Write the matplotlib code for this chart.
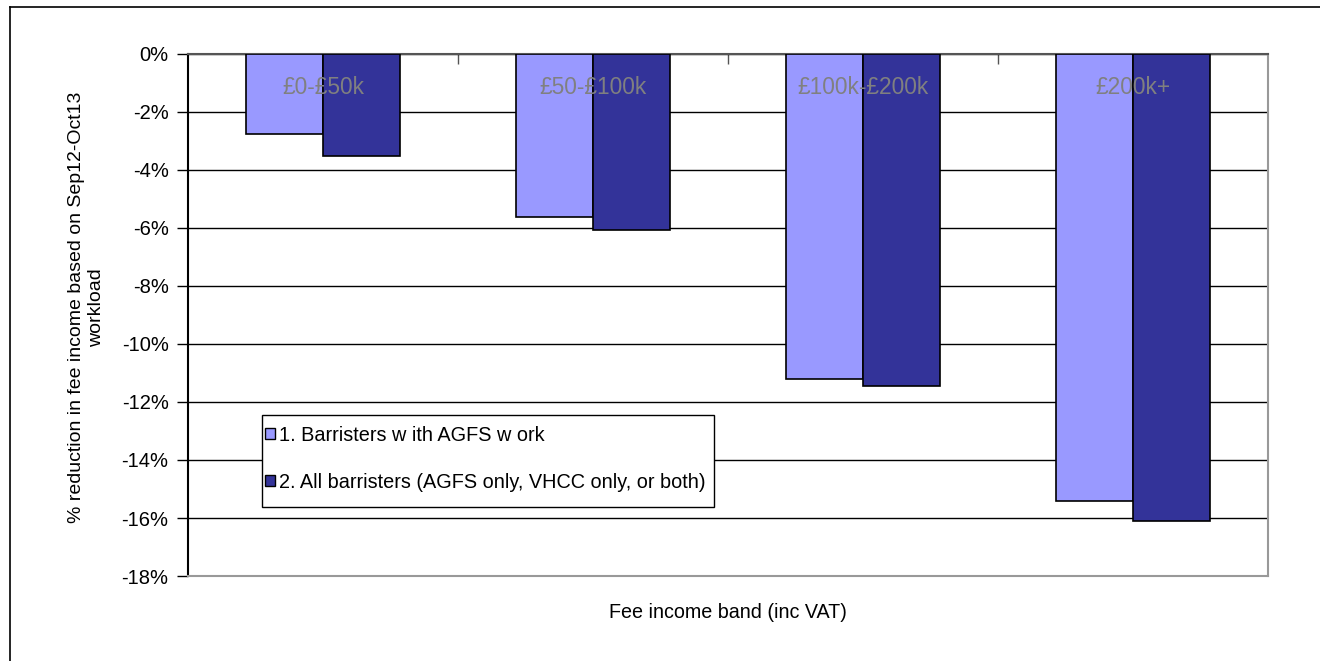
import matplotlib.pyplot as plt
import numpy as np
from matplotlib.lines import Line2D
from matplotlib.patches import Rectangle

plt.rcParams['font.family'] = ['Liberation Sans', 'DejaVu Sans']

bands = ['£0-£50k', '£50-£100k', '£100k-£200k', '£200k+']
agfs_work = [-2.76, -5.62, -11.2, -15.41]
all_barristers = [-3.52, -6.07, -11.45, -16.1]
series_names = ['1. Barristers w ith AGFS w ork',
                '2. All barristers (AGFS only, VHCC only, or both)']

W, H = 1320, 661
fig = plt.figure(figsize=(W/100, H/100), dpi=100)
ax = fig.add_axes([188/W, 1 - 576/H, 1080/W, 522/H])

# outer frame (only top and left are visible)
fig.add_artist(Line2D([10/W, 1.0], [1 - 7/H, 1 - 7/H], color='black', lw=1.2))
fig.add_artist(Line2D([10/W, 10/W], [0, 1 - 7/H], color='black', lw=1.2))

x = np.arange(len(bands))
w = 0.287
ax.bar(x - w/2, agfs_work, w, color='#9999ff', edgecolor='black', lw=1.2,
       label=series_names[0], zorder=3)
ax.bar(x + w/2, all_barristers, w, color='#333399', edgecolor='black', lw=1.2,
       label=series_names[1], zorder=3)

for i, b in enumerate(bands):
    ax.text(i, -1.15, b, ha='center', va='center', color='#808080',
            fontsize=16.4, zorder=4)

ax.set_xlim(-0.5, len(bands) - 0.5)
ax.set_ylim(-18, 0)
yt = np.arange(-18, 1, 2)
ax.set_yticks(yt)
ax.set_yticklabels([f'{v}%' for v in yt], fontsize=14.5)
ax.yaxis.grid(True, color='black', lw=1, zorder=0)
ax.set_axisbelow(True)
ax.tick_params(axis='y', direction='out', length=8, width=1, pad=6)

ax.set_xticks(np.arange(0.5, len(bands) - 1, 1))
ax.set_xticklabels([])
ax.xaxis.tick_top()
ax.tick_params(axis='x', direction='in', length=7, width=1, color='#555555')

ax.spines['left'].set_color('black')
ax.spines['top'].set_color('#555555')
ax.spines['right'].set_color('#999999')
ax.spines['bottom'].set_color('#999999')
for s in ax.spines.values():
    s.set_linewidth(1.5)

ax.set_ylabel('% reduction in fee income based on Sep12-Oct13\nworkload', fontsize=14.0)
ax.yaxis.set_label_coords(-0.077, 0.515)
fig.text((188 + 540)/W, 1 - 613/H, 'Fee income band (inc VAT)',
         ha='center', va='center', fontsize=14.2)

# legend box drawn by hand so the padding matches
box = Rectangle((262/W, 1 - 507/H), 452/W, 92/H, transform=fig.transFigure,
                facecolor='white', edgecolor='black', lw=1, zorder=5,
                clip_on=False)
ax.add_patch(box)
leg = ax.legend(loc='upper left', bbox_to_anchor=(265/W, 1 - 426/H),
                bbox_transform=fig.transFigure, frameon=False, fontsize=14.3,
                handlelength=0.48, handleheight=0.48, labelspacing=1.4,
                borderpad=0, handletextpad=0.22, borderaxespad=0)
leg.set_zorder(6)
for p in leg.get_patches():
    p.set_linewidth(1)

fig.savefig('out.png', dpi=100)
